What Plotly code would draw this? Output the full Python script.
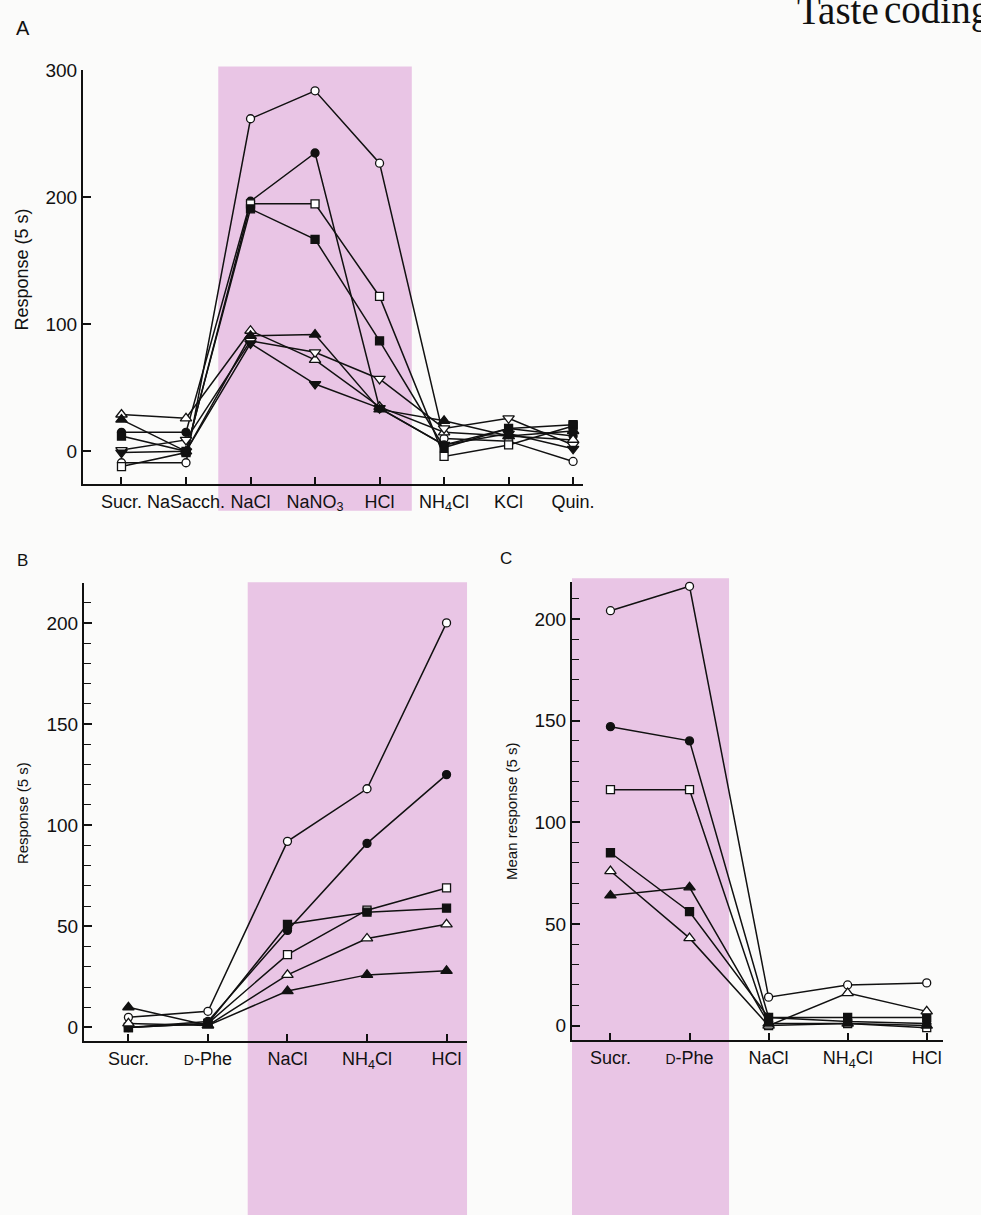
import plotly.graph_objects as go

W, H = 981, 1215

# ---------------- data ----------------
cats_a = ["Sucr.", "NaSacch.", "NaCl", "NaNO<sub>3</sub>", "HCl", "NH<sub>4</sub>Cl", "KCl", "Quin."]
a_open_circle = [-9, -9, 262, 284, 227, 10, 8, -8]
a_filled_circle = [15, 15, 197, 235, 34, 5, 18, 12]
a_open_square = [-12, -1, 195, 195, 122, -4, 5, 20]
a_filled_square = [12, 0, 191, 167, 87, 3, 18, 21]
a_open_tri = [29, 26, 95, 72, 35, 15, 12, 9]
a_filled_tri = [25, 0, 91, 92, 33, 24, 12, 16]
a_open_tridown = [1, 9, 87, 78, 57, 18, 26, 5]
a_filled_tridown = [-1, 0, 85, 53, 34, 5, 14, 2]

cats_bc = ["Sucr.", "<span style='font-size:14px'>D</span>-Phe", "NaCl", "NH<sub>4</sub>Cl", "HCl"]
b_open_circle = [5, 8, 92, 118, 200]
b_filled_circle = [0, 3, 48, 91, 125]
b_open_square = [0, 2, 36, 58, 69]
b_filled_square = [0, 2, 51, 57, 59]
b_open_tri = [2, 1, 26, 44, 51]
b_filled_tri = [10, 1, 18, 26, 28]

c_open_circle = [204, 216, 14, 20, 21]
c_filled_circle = [147, 140, 4, 2, 1]
c_open_square = [116, 116, 0, 1, -1]
c_filled_square = [85, 56, 4, 4, 4]
c_open_tri = [76, 43, 0, 16, 7]
c_filled_tri = [64, 68, 1, 1, 0]

# ---------------- helpers ----------------
def px(x):
    return x / W

def py(y):
    return 1 - y / H

INK = "#111111"
FONT = "Liberation Sans, Arial, Helvetica, sans-serif"
PINK = "rgb(233,197,229)"

def style(kind):
    shape, filled = kind
    sym = {"circle": "circle", "square": "square", "tri": "triangle-up", "tridown": "triangle-down"}[shape]
    size = {"circle": 8, "square": 8, "tri": 10, "tridown": 10}[shape]
    return dict(symbol=sym, size=size, color=INK if filled else "white",
                line=dict(color=INK, width=1.3))

fig = go.Figure()

series_a = [
    (a_open_circle, ("circle", False)), (a_filled_circle, ("circle", True)),
    (a_open_square, ("square", False)), (a_filled_square, ("square", True)),
    (a_open_tri, ("tri", False)), (a_filled_tri, ("tri", True)),
    (a_open_tridown, ("tridown", False)), (a_filled_tridown, ("tridown", True)),
]
series_b = [
    (b_open_circle, ("circle", False)), (b_filled_circle, ("circle", True)),
    (b_open_square, ("square", False)), (b_filled_square, ("square", True)),
    (b_open_tri, ("tri", False)), (b_filled_tri, ("tri", True)),
]
series_c = [
    (c_open_circle, ("circle", False)), (c_filled_circle, ("circle", True)),
    (c_open_square, ("square", False)), (c_filled_square, ("square", True)),
    (c_open_tri, ("tri", False)), (c_filled_tri, ("tri", True)),
]

panels = [(series_a, cats_a, "x", "y"), (series_b, cats_bc, "x2", "y2"), (series_c, cats_bc, "x3", "y3")]

# lines first
for series, cats, xa, ya in panels:
    xs = list(range(len(cats)))
    for vals, kind in series:
        fig.add_trace(go.Scatter(x=xs, y=vals, mode="lines", xaxis=xa, yaxis=ya,
                                 line=dict(color=INK, width=1.5), hoverinfo="skip",
                                 showlegend=False, cliponaxis=False))
# markers on top
for series, cats, xa, ya in panels:
    xs = list(range(len(cats)))
    for vals, kind in series:
        fig.add_trace(go.Scatter(x=xs, y=vals, mode="markers", xaxis=xa, yaxis=ya,
                                 marker=style(kind), showlegend=False, cliponaxis=False))

axis_common = dict(showgrid=False, zeroline=False, showline=True, linecolor=INK, linewidth=2,
                   ticks="inside", tickcolor=INK, tickwidth=1.5,
                   tickfont=dict(family=FONT, size=19, color=INK))

fig.update_layout(
    xaxis=dict(axis_common, domain=[px(84), px(590)], range=[-0.597, 7.15],
               tickvals=list(range(len(cats_a))), ticktext=cats_a, ticklen=7,
               tickfont=dict(family=FONT, size=18, color=INK), anchor="y"),
    yaxis=dict(axis_common, domain=[py(478), py(61)], range=[-25.8, 300],
               tickvals=[0, 100, 200, 300], ticklen=8, anchor="x"),
    xaxis2=dict(axis_common, domain=[px(85), px(473)], range=[-0.559, 4.26],
                tickvals=list(range(len(cats_bc))), ticktext=cats_bc, ticklen=7,
                tickfont=dict(family=FONT, size=18, color=INK), anchor="y2"),
    yaxis2=dict(axis_common, domain=[py(1040), py(578)], range=[-6.9, 219.6],
                tickvals=[0, 50, 100, 150, 200], ticklen=8, anchor="x2",
                minor=dict(dtick=10, tick0=0, ticks="inside", ticklen=7, tickcolor=INK, tickwidth=1.2)),
    xaxis3=dict(axis_common, domain=[px(579), px(955)], range=[-0.4875, 4.21],
                tickvals=list(range(len(cats_bc))), ticktext=cats_bc, ticklen=7,
                tickfont=dict(family=FONT, size=18, color=INK), anchor="y3"),
    yaxis3=dict(axis_common, domain=[py(1039), py(577)], range=[-7.3, 218],
                tickvals=[0, 50, 100, 150, 200], ticklen=8, anchor="x3",
                minor=dict(dtick=10, tick0=0, ticks="inside", ticklen=7, tickcolor=INK, tickwidth=1.2)),
)

# pink shaded regions
fig.add_shape(type="rect", xref="x", yref="paper", x0=1.5, x1=4.5, y0=py(505), y1=py(57),
              fillcolor=PINK, line=dict(width=0), layer="below")
fig.add_shape(type="rect", xref="x2", yref="paper", x0=1.5, x1=4.26, y0=0, y1=py(577),
              fillcolor=PINK, line=dict(width=0), layer="below")
fig.add_shape(type="rect", xref="x3", yref="paper", x0=-0.4875, x1=1.5, y0=0, y1=py(573),
              fillcolor=PINK, line=dict(width=0), layer="below")

def ann(text, x, y, size, angle=0, xanchor="center", yanchor="middle", family=FONT):
    fig.add_annotation(text=text, x=px(x), y=py(y), xref="paper", yref="paper",
                       showarrow=False, textangle=angle, xanchor=xanchor, yanchor=yanchor,
                       font=dict(family=family, size=size, color=INK))

ann("A", 14, 18, 20, xanchor="left")
ann("B", 15, 555, 17, xanchor="left")
ann("C", 504, 553, 17, xanchor="left")
ann("Response (5 s)", 22, 262, 18, angle=-90)
ann("Response (5 s)", 23, 810, 15, angle=-90)
ann("Mean response (5 s)", 518, 808, 15, angle=-90)
SERIF = "Liberation Serif, Times New Roman, serif"
ann("Taste", 805, 24, 39, xanchor="left", yanchor="bottom", family=SERIF)
ann("coding", 893, 24, 39, xanchor="left", yanchor="bottom", family=SERIF)

fig.update_layout(width=W, height=H, margin=dict(l=0, r=0, t=0, b=0),
                  paper_bgcolor="#fbfbfa", plot_bgcolor="rgba(0,0,0,0)", showlegend=False)

fig.write_html(
    "out.html",
    config={"displayModeBar": False},
    post_script=("document.body.style.margin='0';document.body.style.overflow='hidden';"
                 "var gd=document.getElementById('{plot_id}');"
                 "gd.style.position='fixed';gd.style.top='0px';gd.style.left='0px';"),
)
